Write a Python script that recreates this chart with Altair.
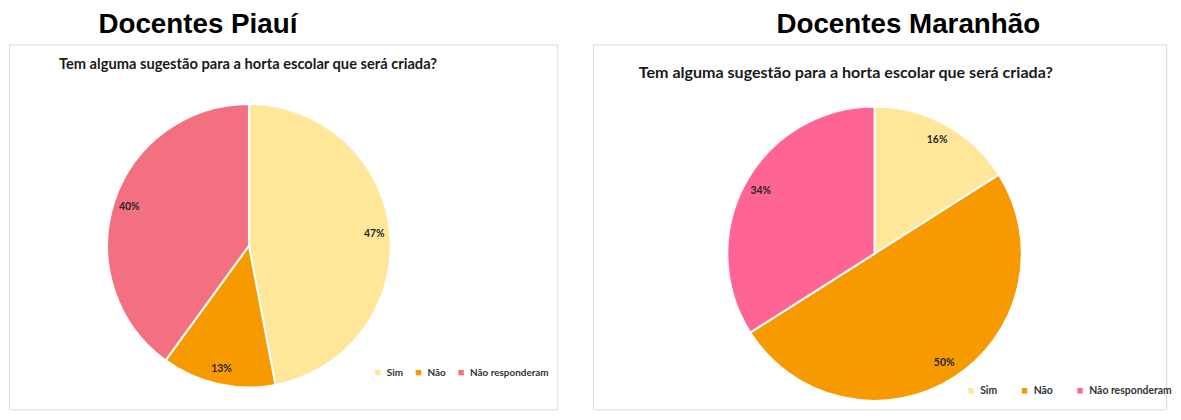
import altair as alt
import pandas as pd

categories = ["Sim", "Não", "Não responderam"]
piaui_values = [47, 13, 40]
maranhao_values = [16, 50, 34]
panel_titles = ["Docentes Piauí", "Docentes Maranhão"]
question = "Tem alguma sugestão para a horta escolar que será criada?"
piaui_colors = ["#FFE699", "#F79A00", "#F2707F"]
maranhao_colors = ["#FFE699", "#F79A00", "#FF6594"]


def panel(values, colors, title, w, h, tdx, cx, cy, r, label_r,
          qx, qy, qsize, lx, ly, lsize, colpad):
    df = pd.DataFrame({
        "cat": categories,
        "val": values,
        "idx": list(range(len(categories))),
        "lbl": [f"{v}%" for v in values],
    })
    base = alt.Chart(df).encode(
        theta=alt.Theta("val:Q", stack=True),
        order=alt.Order("idx:Q"),
    )
    color = alt.Color(
        "cat:N",
        scale=alt.Scale(domain=categories, range=colors),
        title=None,
        legend=alt.Legend(
            orient="none", legendX=lx, legendY=ly, direction="horizontal",
            symbolType="square", symbolSize=30, symbolStrokeWidth=0,
            labelFont="Lato", labelFontWeight="bold", labelFontSize=lsize,
            labelColor="#333333", columnPadding=colpad, padding=0,
            labelOffset=4,
        ),
    )
    arcs = base.mark_arc(outerRadius=r, stroke="white", strokeWidth=2).encode(
        color=color, x=alt.value(cx), y=alt.value(cy)
    )
    labels = base.mark_text(
        radius=label_r, font="Lato", fontWeight="bold", fontSize=10.5, color="#262626"
    ).encode(text="lbl:N", x=alt.value(cx), y=alt.value(cy))
    q = alt.Chart(pd.DataFrame({"q": [question]})).mark_text(
        font="Lato", fontWeight="bold", fontSize=qsize, color="#1a1a1a", align="center", baseline="middle"
    ).encode(text="q:N", x=alt.value(qx), y=alt.value(qy))
    return alt.layer(arcs, labels, q).properties(
        width=w, height=h,
        title=alt.TitleParams(
            title, font="Liberation Sans", fontSize=28, fontWeight="bold",
            color="black", anchor="middle", frame="group", dx=tdx, offset=6,
        ),
    )


left = panel(piaui_values, piaui_colors, panel_titles[0], 553, 368, -86,
             242, 203, 143, 127, 241, 21, 14.8, 367, 326, 10, 10)
right = panel(maranhao_values, maranhao_colors, panel_titles[1], 578, 368, 29,
              284, 211, 148.5, 131, 255, 29, 16.2, 376, 344, 10.5, 22)

chart = alt.hconcat(left, right, spacing=34).resolve_scale(
    color="independent", theta="independent"
).configure_view(stroke="#D9D9D9", strokeWidth=1).properties(padding=0, background="white")

chart.save("out.html", embed_options={"renderer": "svg", "actions": False})
